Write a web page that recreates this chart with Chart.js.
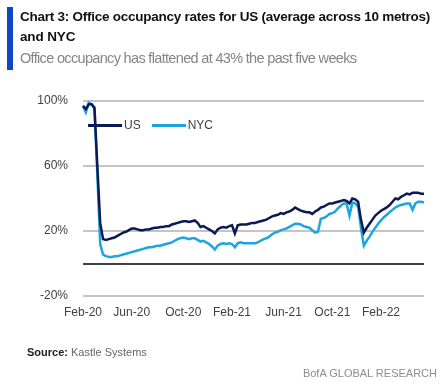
<!DOCTYPE html>
<html>
<head>
<meta charset="utf-8">
<script src="https://cdn.jsdelivr.net/npm/chart.js@4.4.0/dist/chart.umd.min.js"></script>
<style>
  body { margin: 0; background: #fff; }
  #wrap { position: relative; width: 444px; height: 384px; overflow: hidden; font-family: "Liberation Sans", Arial, sans-serif; }
  #bar { position: absolute; left: 7px; top: 7px; width: 6px; height: 63px; background: #0c47c7; }
  .fit { position: absolute; left: 20px; white-space: nowrap; }
  #t1 { top: 9px; font-size: 13.5px; font-weight: bold; color: #111; }
  #t2 { top: 29px; font-size: 13.5px; font-weight: bold; color: #111; }
  #sub { top: 50px; font-size: 14.5px; color: #858585; }
  #legend { position: absolute; left: 88px; top: 118px; font-size: 12px; color: #404040; }
  #legend span.item { display: inline-block; margin-right: 11px; }
  #legend span.ln { display: inline-block; width: 34px; height: 3px; vertical-align: middle; margin-right: 2px; }
  #src { position: absolute; left: 27px; top: 346px; font-size: 11px; color: #666; }
  #src b { color: #222; }
  #bofa { position: absolute; right: 7px; top: 367px; font-size: 11px; color: #8c8c8c; }
  canvas { position: absolute; left: 0; top: 0; }
</style>
</head>
<body>
<div id="wrap">
  <canvas id="occChart" width="444" height="384"></canvas>
  <div id="bar"></div>
  <div id="t1" class="fit" data-w="410">Chart 3: Office occupancy rates for US (average across 10 metros)</div>
  <div id="t2" class="fit" data-w="55">and NYC</div>
  <div id="sub" class="fit" data-w="337">Office occupancy has flattened at 43% the past five weeks</div>
  <div id="legend"></div>
  <div id="src"><b>Source:</b> Kastle Systems</div>
  <div id="bofa">BofA GLOBAL RESEARCH</div>
</div>
<script>
// weekly occupancy, % of pre-covid level, starting first week of Feb-20
let usArr = [97,95,98,98,96,60,25,15,14.5,15,15.5,16,17,18,19,19.5,20.5,21.5,21.5,21,
  20.5,20.5,21,21,21.5,22,22,22.5,22.5,23,23,24,24.5,25,25.5,26,26,25.5,26,26.5,
  25,22.5,23,22,21,20,18.5,21,22,22.5,22,23,23.5,18.5,23.5,24,24,24,24.5,25,
  25,25.5,26,26.5,27,28,29,29.5,30,31,30.5,31.5,32,33,34.5,33.5,32.5,32,31.5,31.5,
  30.5,32,33,34.5,35,36,37,37,37.5,38,38.5,39,38.5,37,40,39.5,38,27,19,22,
  24.5,27,29.5,31,32.5,33.5,34.5,36,38,40,39.5,41,42,43,42.5,43.5,43.5,43.5,43,43];
let nycArr = [97,93,99,98,95,55,12,5.5,4.5,4,4,4.5,4.5,5,5.5,6,6.5,7,7.5,8,
  8.5,9,9.5,10,10,10.5,11,11,11.5,12,12.5,13,14,15,15.5,16,15.5,15,15.5,15.5,
  14.5,13.5,14,13,12,10.5,8.6,11,12,12.5,12,12.5,12,10,12.5,13,12.5,12.5,12.5,12.5,
  12.5,13,14,15,15.5,16.5,18,19,19.5,20.5,21,21.5,22.5,23.5,24.5,24.5,24,23,22.5,22,
  20.5,19,19.5,27.5,28,29,30.5,31,32,34,35.5,37,37,29.5,37.5,37,35,22,11,14,
  16.5,19.5,22,24.5,26.5,28.5,30,31.5,33,34.5,35.5,36,36.5,37,37,33,37,38,38,37.5];

let seriesNames = ['US', 'NYC'];
let seriesColors = ['#0b1a52', '#1ea6dc'];

let tickLabels = ['Feb-20','Jun-20','Oct-20','Feb-21','Jun-21','Oct-21','Feb-22'];
let tickWeeks = [0, 17, 35, 52, 70, 87, 104];
let yTicks = [-20, 0, 20, 60, 100];

let weekLabels = usArr.map((v, i) => 'w' + i);

const ctx = document.getElementById('occChart').getContext('2d');

const occChart = new Chart(ctx, {
    type: 'line',
    data: {
        labels: weekLabels,
        datasets: [{
                label: seriesNames[0],
                data: usArr,
                borderColor: seriesColors[0],
                borderWidth: 2.5,
                pointRadius: 0
            },
            {
                label: seriesNames[1],
                data: nycArr,
                borderColor: seriesColors[1],
                borderWidth: 2.5,
                pointRadius: 0
            }]
    },
    options: {
        responsive: false,
        animation: false,
        layout: {
            padding: { left: 0, right: 20, top: 101, bottom: 58 }
        },
        scales: {
            x: {
                grid: { display: false },
                border: { display: false },
                afterFit: (s) => { s.height = 30; },
                ticks: {
                    autoSkip: false,
                    maxRotation: 0,
                    padding: 1,
                    color: '#404040',
                    font: { size: 12 },
                    callback: (v, i) => {
                        let k = tickWeeks.indexOf(i);
                        return k >= 0 ? tickLabels[k] : '';
                    }
                }
            },
            y: {
                min: -20,
                max: 100,
                afterFit: (s) => { s.width = 83; },
                afterBuildTicks: (s) => { s.ticks = yTicks.map(v => ({ value: v })); },
                border: { display: false },
                grid: {
                    drawTicks: false,
                    color: (c) => c.tick && c.tick.value === 0 ? '#404040' : '#c4c4c4',
                    lineWidth: 2
                },
                ticks: {
                    padding: 15,
                    color: '#404040',
                    font: { size: 12 },
                    callback: (v) => v === 0 ? '' : v + '%'
                }
            }
        },
        plugins: {
            legend: { display: false },
            tooltip: { enabled: false }
        }
    }
});

// tighten the header text to the width it has in the original
document.querySelectorAll('.fit').forEach(el => {
    let n = el.textContent.length;
    let ls = (el.dataset.w - el.scrollWidth) / n;
    el.style.letterSpacing = ls.toFixed(2) + 'px';
});

// legend placed inside the plot, top left
let lg = document.getElementById('legend');
seriesNames.forEach((n, i) => {
    lg.innerHTML += '<span class="item"><span class="ln" style="background:' + seriesColors[i] + '"></span>' + n + '</span>';
});
</script>
</body>
</html>
